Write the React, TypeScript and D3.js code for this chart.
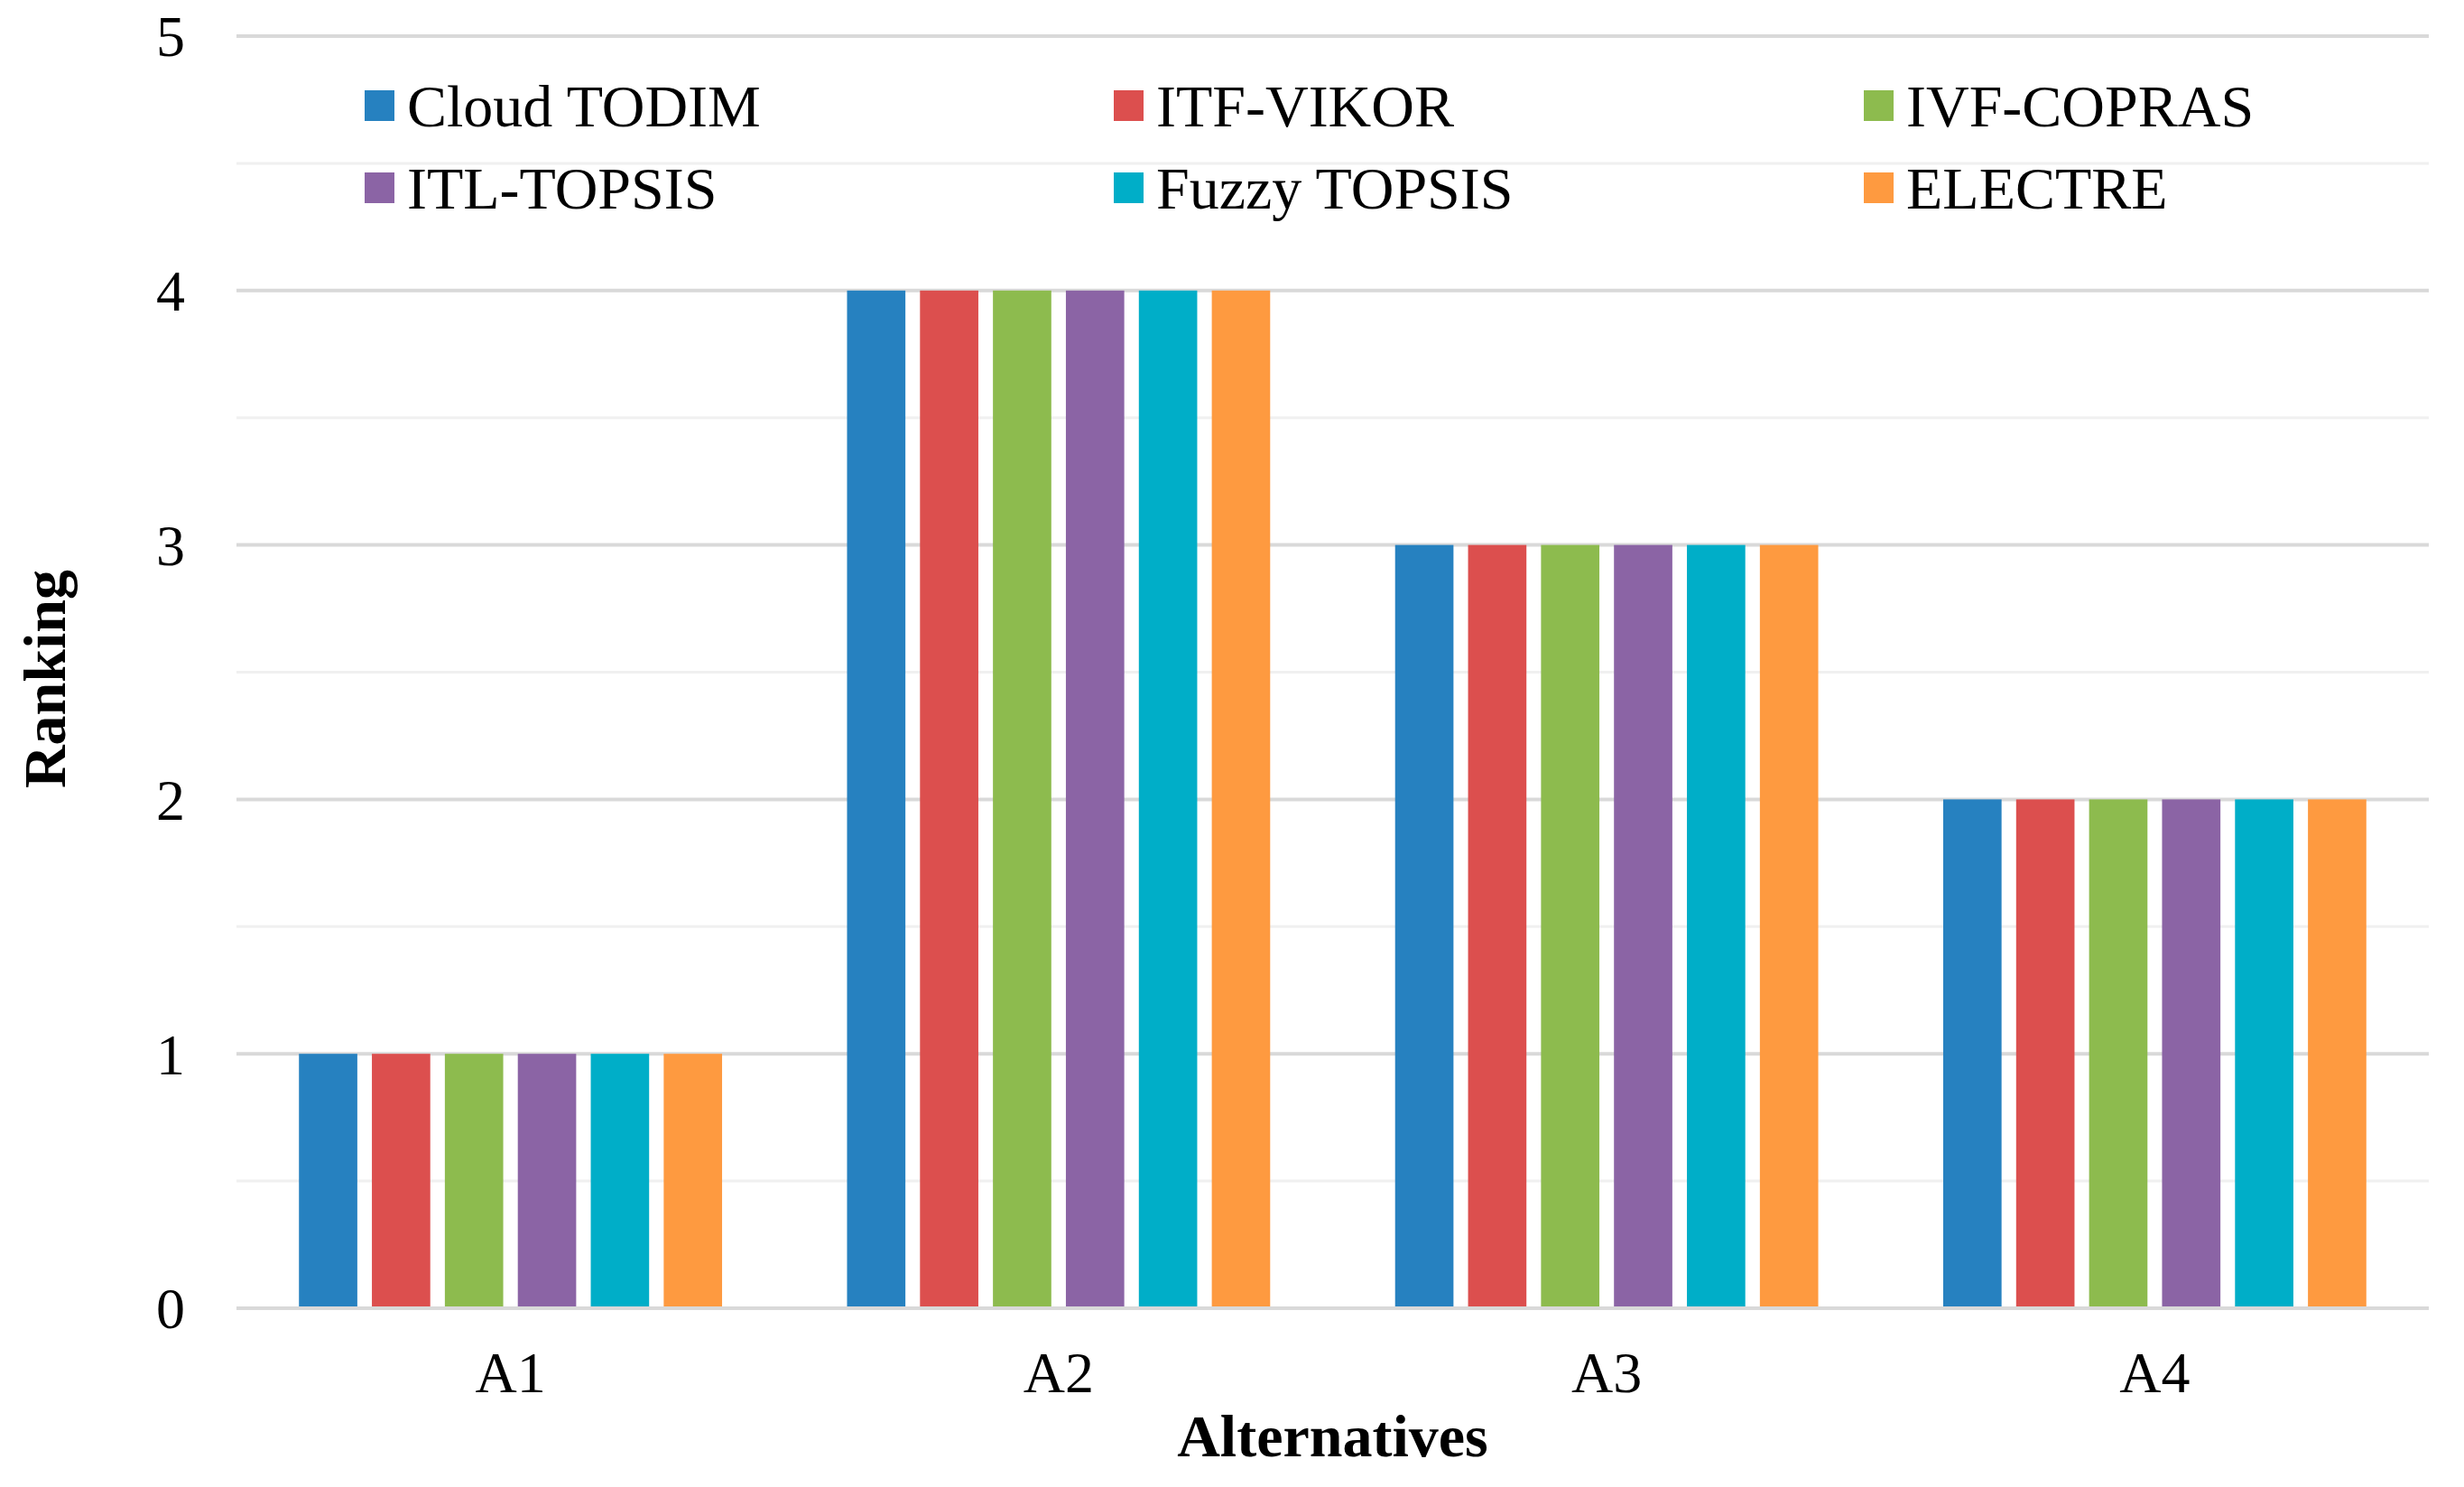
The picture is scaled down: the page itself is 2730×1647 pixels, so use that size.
import React from 'react';
import * as d3 from 'd3';

const categories = ['A1', 'A2', 'A3', 'A4'];
const seriesNames = ['Cloud TODIM', 'ITF-VIKOR', 'IVF-COPRAS', 'ITL-TOPSIS', 'Fuzzy TOPSIS', 'ELECTRE'];
const seriesColors = ['#2681c0', '#dc4f4e', '#8dbb4e', '#8b64a5', '#00aec8', '#fe9a40'];

// rankings per method, in category order
const cloudTodim = [1, 4, 3, 2];
const itfVikor = [1, 4, 3, 2];
const ivfCopras = [1, 4, 3, 2];
const itlTopsis = [1, 4, 3, 2];
const fuzzyTopsis = [1, 4, 3, 2];
const electre = [1, 4, 3, 2];
const seriesValues = [cloudTodim, itfVikor, ivfCopras, itlTopsis, fuzzyTopsis, electre];

const yTicks = [0, 1, 2, 3, 4, 5];
const yMinorTicks = [0.5, 1.5, 2.5, 3.5, 4.5];

const W = 2730;
const H = 1647;
const margin = { top: 40, right: 39, bottom: 198, left: 262 };
const FONT = '"Liberation Serif", "Times New Roman", serif';

export default function App() {
  const plotW = W - margin.left - margin.right;
  const plotH = H - margin.top - margin.bottom;

  const x0 = d3.scaleBand<string>().domain(categories).range([0, plotW]).padding(0);
  const groupPad = x0.bandwidth() * 0.114;
  const x1 = d3.scaleBand<string>()
    .domain(seriesNames)
    .range([groupPad, x0.bandwidth() - groupPad])
    .paddingInner(0.2)
    .paddingOuter(0);
  const y = d3.scaleLinear().domain([0, 5]).range([plotH, 0]);

  const legendCols = [404 - margin.left, 1234 - margin.left, 2065 - margin.left];
  const legendRows = [117 - margin.top, 208 - margin.top];

  return (
    <div style={{ position: 'absolute', left: 0, top: 0 }}>
      <svg width={W} height={H} style={{ display: 'block', background: '#fff' }}>
        <g transform={`translate(${margin.left},${margin.top})`}>
          {/* minor grid */}
          {yMinorTicks.map(t => (
            <line key={'m' + t} x1={0} x2={plotW} y1={y(t)} y2={y(t)} stroke="#f0f0f0" strokeWidth={3} />
          ))}
          {/* major grid */}
          {yTicks.map(t => (
            <line key={'g' + t} x1={0} x2={plotW} y1={y(t)} y2={y(t)} stroke="#d9d9d9" strokeWidth={4} />
          ))}

          {/* bars */}
          {categories.map((c, ci) => (
            <g key={c} transform={`translate(${x0(c)},0)`}>
              {seriesNames.map((s, si) => {
                const v = seriesValues[si][ci];
                return (
                  <rect
                    key={s}
                    x={x1(s)}
                    y={y(v)}
                    width={x1.bandwidth()}
                    height={y(0) - y(v) - 2}
                    fill={seriesColors[si]}
                  />
                );
              })}
            </g>
          ))}

          {/* y tick labels */}
          {yTicks.map(t => (
            <text key={'t' + t} x={-57} y={y(t)} dy="0.35em" textAnchor="end"
              fontFamily={FONT} fontSize={64} fill="#000">{t}</text>
          ))}

          {/* x tick labels */}
          {categories.map(c => (
            <text key={'x' + c} x={(x0(c) as number) + x0.bandwidth() / 2} y={plotH + 93}
              textAnchor="middle" fontFamily={FONT} fontSize={64} fill="#000">{c}</text>
          ))}

          {/* legend */}
          {seriesNames.map((s, i) => {
            const lx = legendCols[i % 3];
            const ly = legendRows[Math.floor(i / 3)];
            return (
              <g key={'l' + s} transform={`translate(${lx},${ly})`}>
                <rect x={0} y={-17} width={33} height={34} fill={seriesColors[i]} />
                <text x={47} y={0} dy="0.35em" fontFamily={FONT} fontSize={66} fill="#000">{s}</text>
              </g>
            );
          })}
        </g>

        {/* axis titles */}
        <text x={margin.left + plotW / 2} y={1613} textAnchor="middle" fontFamily={FONT}
          fontSize={66} fontWeight="bold" fill="#000">Alternatives</text>
        <text transform={`translate(72,${752}) rotate(-90)`} textAnchor="middle" fontFamily={FONT}
          fontSize={66} fontWeight="bold" fill="#000">Ranking</text>
      </svg>
    </div>
  );
}
